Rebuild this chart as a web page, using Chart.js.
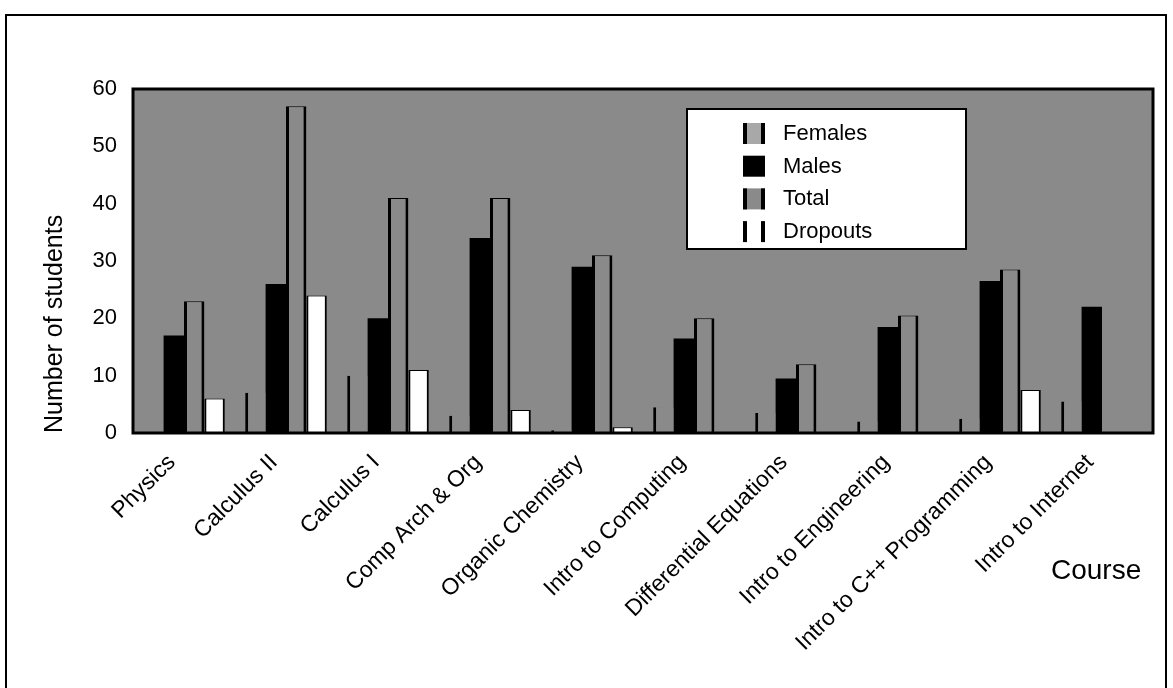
<!DOCTYPE html>
<html>
<head>
<meta charset="utf-8">
<title>Students per course</title>
<script src="https://cdn.jsdelivr.net/npm/chart.js@4.4.1/dist/chart.umd.min.js"></script>
<style>
    html, body { margin: 0; padding: 0; background: #fff; }
    #frame { position: absolute; left: 5px; top: 14px; width: 1158px; height: 700px; border: 2px solid #000; border-bottom: none; }
    #wrap { position: absolute; left: 0; top: 0; width: 1173px; height: 688px; }
</style>
</head>
<body>
<div id="frame"></div>
<div id="wrap"><canvas id="canvasCourses" width="1173" height="688"></canvas></div>
<script>
'use strict';

// values
const categories = ['Physics', 'Calculus II', 'Calculus I', 'Comp Arch & Org', 'Organic Chemistry',
    'Intro to Computing', 'Differential Equations', 'Intro to Engineering',
    'Intro to C++ Programming', 'Intro to Internet'];
const females = [0, 7, 10, 3, 0.5, 4.5, 3.5, 2, 2.5, 5.5];
const males = [17, 26, 20, 34, 29, 16.5, 9.5, 18.5, 26.5, 22];
const total = [23, 57, 41, 41, 31, 20, 12, 20.5, 28.5, null];
const dropouts = [6, 24, 11, 4, 1, 0, 0, 0, 7.5, null];
const yTicks = [0, 10, 20, 30, 40, 50, 60];

const FONT = "'Liberation Sans', Arial, sans-serif";
const speckle = '#8a8a8a';

// gray speckled plot area + black frame round it
const plotArea = {
    id: 'plotArea',
    beforeDraw(chart){
        const {ctx, chartArea: a} = chart;
        ctx.save();
        ctx.fillStyle = speckle;
        ctx.fillRect(a.left, a.top, a.right - a.left, a.bottom - a.top);
        ctx.restore();
    },
    afterDatasetsDraw(chart){
        const {ctx, chartArea: a} = chart;
        ctx.save();
        ctx.strokeStyle = '#000';
        ctx.lineWidth = 3;
        ctx.strokeRect(a.left, a.top, a.right - a.left, a.bottom - a.top);
        ctx.restore();
    }
};

// legend box sitting inside the plot, like the original
const boxLegend = {
    id: 'boxLegend',
    afterDraw(chart){
        const ctx = chart.ctx;
        const x = 687, y = 109, w = 279, h = 140;
        ctx.save();
        ctx.fillStyle = '#fff';
        ctx.fillRect(x, y, w, h);
        ctx.strokeStyle = '#000';
        ctx.lineWidth = 2;
        ctx.strokeRect(x, y, w, h);
        ctx.font = '22px ' + FONT;
        ctx.textBaseline = 'middle';
        const swatch = ['#a8a8a8', '#000', speckle, '#fff'];
        chart.data.datasets.forEach((ds, i) => {
            const cy = 133 + i * 32.7;
            const sx = 743, sy = cy - 10, sw = 22, sh = 21;
            ctx.fillStyle = swatch[i];
            ctx.fillRect(sx, sy, sw, sh);
            ctx.fillStyle = '#000';
            if (ds.label !== 'Males'){
                ctx.fillRect(sx, sy, 4, sh);
                ctx.fillRect(sx + sw - 4, sy, 4, sh);
            }
            ctx.fillText(ds.label, 783, cy + 1);
        });
        ctx.restore();
    }
};

const courseLabel = {
    id: 'courseLabel',
    afterDraw(chart){
        const ctx = chart.ctx;
        ctx.save();
        ctx.font = '28px ' + FONT;
        ctx.fillStyle = '#000';
        ctx.textBaseline = 'middle';
        ctx.fillText('Course', 1051, 571);
        ctx.restore();
    }
};

const config = {
    type: 'bar',
    data: {
        labels: categories,
        datasets: [
            {label: 'Females', data: females, backgroundColor: speckle, borderColor: '#000',
                borderWidth: {left: 3, right: 0, top: 0, bottom: 0}, borderSkipped: 'bottom'},
            {label: 'Males', data: males, backgroundColor: '#000', borderWidth: 0},
            {label: 'Total', data: total, backgroundColor: speckle, borderColor: '#000',
                borderWidth: {left: 3, right: 3, top: 1, bottom: 0}, borderSkipped: 'bottom'},
            {label: 'Dropouts', data: dropouts, backgroundColor: '#fff', borderColor: '#000',
                borderWidth: {left: 2, right: 2, top: 1, bottom: 0}, borderSkipped: 'bottom'}
        ]
    },
    options: {
        responsive: false,
        animation: false,
        layout: {padding: {left: 37, top: 89, right: 20, bottom: 0}},
        datasets: {bar: {barPercentage: 1.0, categoryPercentage: 0.8}},
        plugins: {
            legend: {display: false},
            tooltip: {enabled: false}
        },
        scales: {
            x: {
                grid: {display: false, drawTicks: false},
                border: {display: false},
                ticks: {
                    autoSkip: false,
                    minRotation: 45,
                    maxRotation: 45,
                    labelOffset: -12,
                    padding: 16,
                    color: '#000',
                    font: {family: FONT, size: 23}
                },
                afterFit(scale){ scale.height = 255; }
            },
            y: {
                min: 0,
                max: 60,
                grid: {display: false, drawTicks: false},
                border: {display: false},
                afterBuildTicks(scale){ scale.ticks = yTicks.map(v => ({value: v})); },
                ticks: {
                    padding: 16,
                    color: '#000',
                    font: {family: FONT, size: 22}
                },
                title: {
                    display: true,
                    text: 'Number of students',
                    align: 'start',
                    color: '#000',
                    padding: {top: 3, bottom: 0},
                    font: {family: FONT, size: 25}
                },
                afterFit(scale){ scale.width = 96; }
            }
        }
    },
    plugins: [plotArea, boxLegend, courseLabel]
};

const ctx = document.querySelector('#canvasCourses').getContext('2d');
let chart = new Chart(ctx, config);
</script>
</body>
</html>
